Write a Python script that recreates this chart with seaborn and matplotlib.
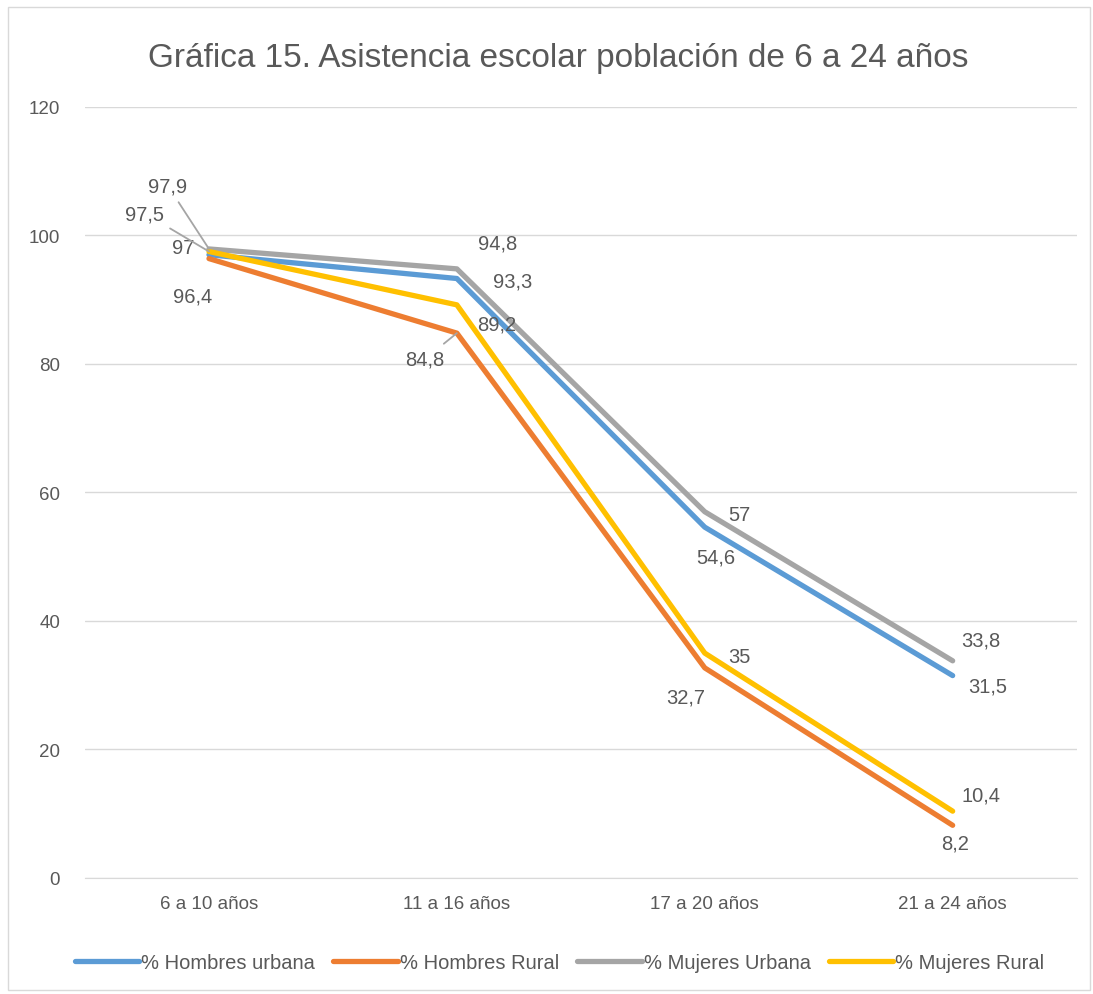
import pandas as pd
import seaborn as sns
from matplotlib import pyplot as plt
from matplotlib.patches import Rectangle

# categorías y series
grupos = ['6 a 10 años', '11 a 16 años', '17 a 20 años', '21 a 24 años']
series = ['% Hombres urbana', '% Hombres Rural', '% Mujeres Urbana', '% Mujeres Rural']
hombres_urbana = [97, 93.3, 54.6, 31.5]
hombres_rural = [96.4, 84.8, 32.7, 8.2]
mujeres_urbana = [97.9, 94.8, 57, 33.8]
mujeres_rural = [97.5, 89.2, 35, 10.4]
colores = ['#5B9BD5', '#ED7D31', '#A5A5A5', '#FFC000']

valores = [hombres_urbana, hombres_rural, mujeres_urbana, mujeres_rural]
df = pd.DataFrame({
    'x': list(range(len(grupos))) * len(series),
    'valor': hombres_urbana + hombres_rural + mujeres_urbana + mujeres_rural,
    'serie': [s for s in series for _ in grupos],
})

# desplazamiento de etiquetas (pixeles, y hacia arriba) y si llevan línea guía
offsets = [
    [(-26, 7, False), (56, -2, False), (11, -30, False), (35, -10, False)],
    [(-16, -37, False), (-32, -26, True), (-19, -29, False), (2, -18, False)],
    [(-41, 63, True), (41, 26, False), (35, -3, False), (28, 21, False)],
    [(-64, 38, True), (40, -19, False), (35, -3, False), (28, 16, False)],
]

sns.set_style('white')
plt.rcParams['font.family'] = ['Liberation Sans', 'DejaVu Sans']
texto = '#595959'

fig = plt.figure(figsize=(10.93, 9.95), dpi=100)
ax = fig.add_axes([0.0778, 0.1166, 0.9072, 0.7749])

sns.lineplot(data=df, x='x', y='valor', hue='serie', hue_order=series,
             palette=colores, linewidth=3.8, ax=ax, legend=False)

for lines in ax.get_lines():
    lines.set_solid_capstyle('round')

for vals, offs in zip(valores, offsets):
    for i, (v, (dx, dy, guia)) in enumerate(zip(vals, offs)):
        etiqueta = f'{v:g}'.replace('.', ',')
        ax.annotate(etiqueta, (i, v), xytext=(dx, dy), textcoords='offset pixels',
                    ha='center', va='center', fontsize=14.5, color=texto,
                    arrowprops=dict(arrowstyle='-', color='#A5A5A5', lw=1.3,
                                    shrinkA=3, shrinkB=0) if guia else None)

ax.set_xlim(-0.5, 3.5)
ax.set_ylim(0, 120)
ax.set_xticks(range(len(grupos)))
ax.set_xticklabels(grupos)
ax.set_yticks(range(0, 121, 20))
ax.yaxis.grid(True, color='#D9D9D9', lw=1)
ax.set_xlabel('')
ax.set_ylabel('')
for s in ['top', 'right', 'left']:
    ax.spines[s].set_visible(False)
ax.spines['bottom'].set_color('#D9D9D9')
ax.tick_params(axis='both', length=0, labelsize=13.5, colors=texto, pad=12)
ax.tick_params(axis='y', pad=18)

fig.suptitle('Gráfica 15. Asistencia escolar población de 6 a 24 años',
             x=0.511, y=0.957, fontsize=24, color=texto)

handles = [plt.Line2D([], [], color=c, lw=3.8, solid_capstyle='round') for c in colores]
fig.legend(handles, series, loc='center', bbox_to_anchor=(0.512, 0.032), ncol=4,
           frameon=False, fontsize=14.5, handlelength=3.2, handletextpad=0.1,
           columnspacing=0.9, labelcolor=texto)

fig.patches.append(Rectangle((0.007, 0.004), 0.99, 0.988, transform=fig.transFigure,
                             fill=False, edgecolor='#D9D9D9', lw=1))

fig.savefig('out.png', dpi=100)
